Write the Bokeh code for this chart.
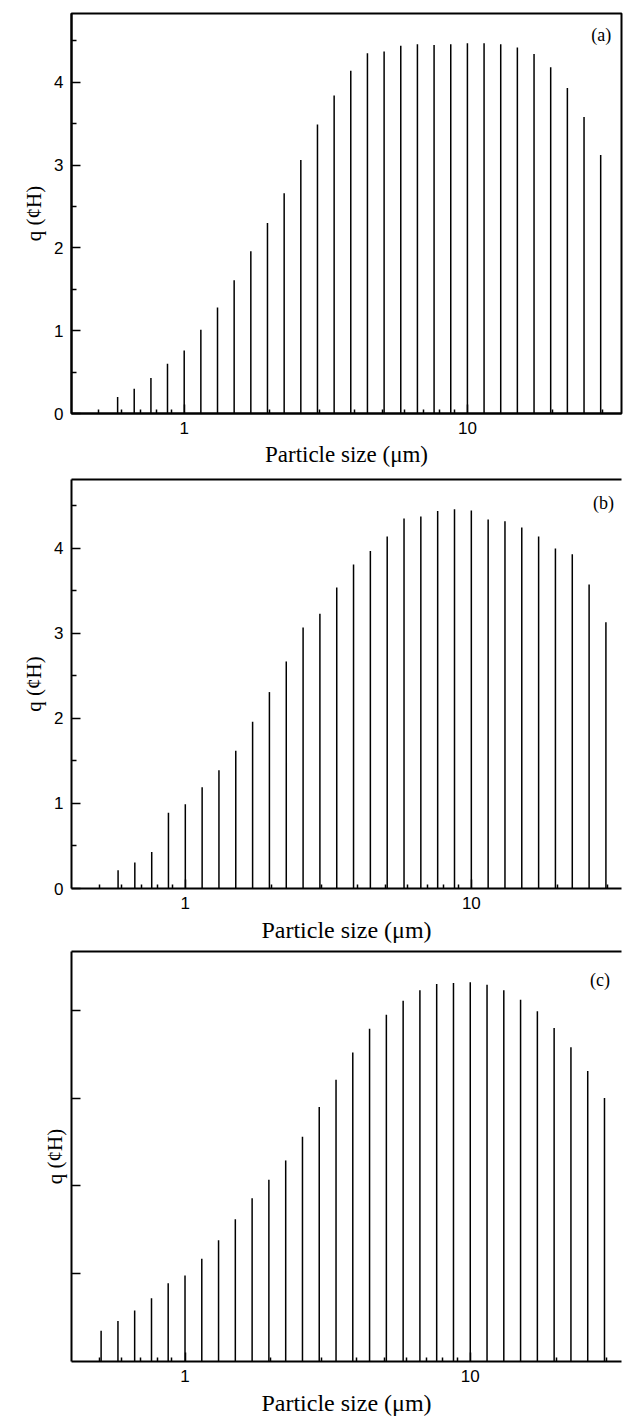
from bokeh.plotting import figure
from bokeh.layouts import column
from bokeh.models import (FixedTicker, LogAxis, Label, Range1d,
                          NumeralTickFormatter, CustomJSTickFormatter)
from bokeh.embed import file_html
from bokeh.resources import INLINE

# Particle size classes (um), log-spaced
size_um = [0.508, 0.582, 0.666, 0.763, 0.873, 1.0, 1.145, 1.311, 1.501, 1.719,
           1.968, 2.254, 2.581, 2.955, 3.384, 3.874, 4.436, 5.080, 5.817, 6.660,
           7.626, 8.733, 10.0, 11.45, 13.11, 15.01, 17.19, 19.68, 22.54, 25.81,
           29.55]

# Frequency distributions q for the three cases
q_a = [0.20, 0.30, 0.43, 0.60, 0.76, 1.01, 1.28, 1.61, 1.96, 2.30,
       2.66, 3.06, 3.49, 3.84, 4.14, 4.35, 4.37, 4.44, 4.46, 4.45,
       4.46, 4.47, 4.47, 4.46, 4.42, 4.34, 4.18, 3.93, 3.58, 3.12]
q_b = [0.215, 0.305, 0.43, 0.89, 0.99, 1.19, 1.39, 1.62, 1.96, 2.31,
       2.67, 3.07, 3.23, 3.54, 3.81, 3.97, 4.14, 4.35, 4.375, 4.44,
       4.46, 4.445, 4.34, 4.32, 4.245, 4.14, 4.00, 3.93, 3.575, 3.13]
q_c = [0.35, 0.46, 0.58, 0.72, 0.89, 0.98, 1.17, 1.38, 1.62, 1.86,
       2.07, 2.29, 2.56, 2.90, 3.21, 3.52, 3.79, 3.95, 4.11, 4.23,
       4.30, 4.31, 4.32, 4.29, 4.23, 4.12, 3.99, 3.80, 3.58, 3.31, 3.00]

x_major = [1, 10]
x_minor = [0.5, 0.6, 0.7, 0.8, 0.9, 2, 3, 4, 5, 6, 7, 8, 9, 20, 30]
y_major = [0, 1, 2, 3, 4]
y_minor = [0.5, 1.5, 2.5, 3.5, 4.5]
y_major_c = [1, 2, 3, 4]

x_title = "Particle size (\u03bcm)"
y_title = "q (\u00a2H)"

SANS = "Liberation Sans"
SERIF = "Liberation Serif"


def panel(sizes, q, tag, tag_xy, x_end, y_end, height, borders,
          xtitle_size="23px", labelled_y=True, closed_frame=True):
    left, right, top, bottom = borders
    p = figure(width=624, height=height, x_axis_type="log",
               x_range=Range1d(0.4, x_end), y_range=Range1d(0, y_end),
               output_backend="svg", toolbar_location=None,
               min_border_left=left, min_border_right=right,
               min_border_top=top, min_border_bottom=bottom)
    p.grid.visible = False
    p.background_fill_color = "white"
    p.border_fill_color = "white"

    p.segment(x0=sizes, y0=[0] * len(q), x1=sizes, y1=q,
              line_color="black", line_width=1.5)

    xa = p.below[0]
    xa.ticker = FixedTicker(ticks=x_major, minor_ticks=x_minor)
    xa.formatter = NumeralTickFormatter(format="0")
    xa.axis_line_width = 2
    xa.major_tick_in = 9
    xa.major_tick_out = 0
    xa.minor_tick_in = 4
    xa.minor_tick_out = 0
    xa.major_tick_line_width = 1.5
    xa.minor_tick_line_width = 1.5
    xa.major_label_text_font = SANS
    xa.major_label_text_font_size = "17px"
    xa.major_label_text_color = "black"
    xa.major_label_standoff = 8
    xa.axis_label = x_title
    xa.axis_label_text_font = SERIF
    xa.axis_label_text_font_size = xtitle_size
    xa.axis_label_text_font_style = "normal"
    xa.axis_label_text_color = "black"
    xa.axis_label_standoff = 5

    ya = p.left[0]
    if labelled_y:
        ya.ticker = FixedTicker(ticks=y_major, minor_ticks=y_minor)
    else:
        ya.ticker = FixedTicker(ticks=y_major_c)
        ya.formatter = CustomJSTickFormatter(code="return ''")
    ya.axis_line_width = 2
    ya.major_tick_in = 9
    ya.major_tick_out = 0
    ya.minor_tick_in = 5
    ya.minor_tick_out = 0
    ya.major_tick_line_width = 1.5
    ya.minor_tick_line_width = 1.5
    ya.major_label_text_font = SANS
    ya.major_label_text_font_size = "17px"
    ya.major_label_text_color = "black"
    ya.major_label_standoff = 8
    ya.axis_label = y_title
    ya.axis_label_text_font = SERIF
    ya.axis_label_text_font_size = "21px"
    ya.axis_label_text_font_style = "normal"
    ya.axis_label_text_color = "black"
    ya.axis_label_standoff = 5

    if closed_frame:
        p.outline_line_color = "black"
        p.outline_line_width = 2
    else:
        # frame continues past the right edge: draw only the top rule
        p.outline_line_color = None
        top_axis = LogAxis(ticker=FixedTicker(ticks=[]),
                           major_label_text_font_size="0px",
                           major_label_standoff=0,
                           major_tick_line_color=None,
                           minor_tick_line_color=None,
                           axis_line_width=2, axis_line_color="black")
        p.add_layout(top_axis, "above")

    p.add_layout(Label(x=tag_xy[0], y=tag_xy[1], text=tag,
                       text_font=SERIF, text_font_size="18px",
                       text_align="center", text_baseline="middle",
                       text_color="black"))
    return p


pa = panel(size_um[1:], q_a, "(a)", (29.7, 4.57), 35, 4.83, 470,
           (71, 3, 13, 57), xtitle_size="23px")
pb = panel(size_um[1:], q_b, "(b)", (29.0, 4.53), 33.5, 4.81, 476,
           (62, 0, 9, 58), xtitle_size="24px", closed_frame=False)
pc = panel(size_um, q_c, "(c)", (28.5, 4.35), 33.9, 4.67, 472,
           (60, 0, 5, 52), xtitle_size="24px", labelled_y=False,
           closed_frame=False)

layout = column(pa, pb, pc, spacing=0)

with open("out.html", "w") as f:
    f.write(file_html(layout, INLINE))
